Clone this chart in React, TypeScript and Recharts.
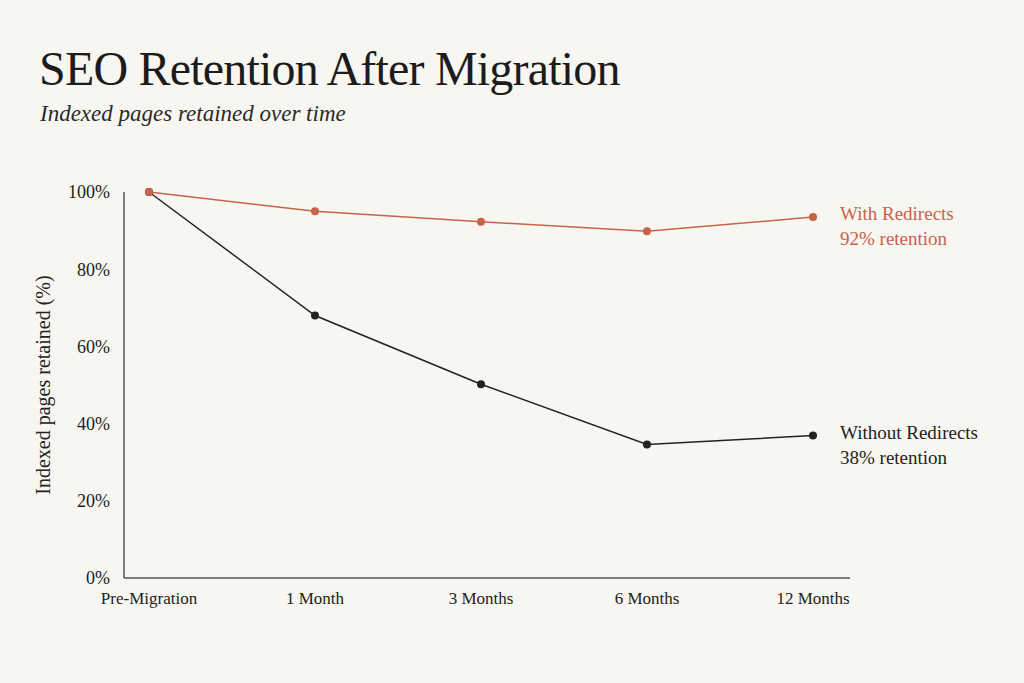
import React from 'react';
import { LineChart, Line, XAxis, YAxis, LabelList } from 'recharts';

const periods = ['Pre-Migration', '1 Month', '3 Months', '6 Months', '12 Months'];
const withRedirects = [100, 95, 92.3, 89.8, 93.5];
const withoutRedirects = [100, 68, 50.2, 34.6, 36.9];
const yTicks = [0, 20, 40, 60, 80, 100];
const seriesNames = ['With Redirects', 'Without Redirects'];
const retentionNotes = ['92% retention', '38% retention'];

const RED = '#c8624b';
const INK = '#222222';
const BG = '#f8f6f1';
const FONT = '"Liberation Serif", "DejaVu Serif", serif';

const data = periods.map((p, i) => ({
  period: p,
  withR: withRedirects[i],
  withoutR: withoutRedirects[i],
}));

const endLabel = (name: string, note: string, color: string) => (props: any) => {
  const { x, y, index } = props;
  if (index !== data.length - 1) return null;
  return (
    <text x={x + 27} y={y} fill={color} fontFamily={FONT} fontSize={19}>
      <tspan x={x + 27} dy={3}>{name}</tspan>
      <tspan x={x + 27} dy={25}>{note}</tspan>
    </text>
  );
};

const App = () => {
  return (
    <div
      style={{
        position: 'absolute',
        left: 0,
        top: 0,
        width: 1024,
        height: 683,
        background: BG,
        fontFamily: FONT,
        color: INK,
        overflow: 'hidden',
      }}
    >
      <div style={{ position: 'absolute', left: 39, top: 39, fontSize: 48, letterSpacing: -0.8, lineHeight: '60px', color: '#1c1c1c' }}>
        SEO Retention After Migration
      </div>
      <div style={{ position: 'absolute', left: 40, top: 100, fontSize: 23, fontStyle: 'italic', lineHeight: '28px', color: '#2a2a2a' }}>
        Indexed pages retained over time
      </div>
      <div style={{ position: 'absolute', left: 0, top: 0 }}>
        <LineChart width={1024} height={683} data={data} margin={{ top: 192, right: 174, bottom: 75, left: 34 }}>
          <XAxis
            dataKey="period"
            padding={{ left: 25, right: 37 }}
            tickLine={false}
            tickSize={6}
            tickMargin={8}
            stroke="#555"
            strokeWidth={1.5}
            tick={{ fill: INK, fontSize: 17, fontFamily: FONT }}
          />
          <YAxis
            width={90}
            domain={[0, 100]}
            ticks={yTicks}
            tickFormatter={(v) => `${v}%`}
            tickLine={false}
            tickSize={6}
            tickMargin={8}
            stroke="#555"
            strokeWidth={1.5}
            tick={{ fill: INK, fontSize: 18, fontFamily: FONT }}
            label={{
              value: 'Indexed pages retained (%)',
              angle: -90,
              position: 'insideLeft',
              offset: 9,
              style: { textAnchor: 'middle', fill: INK, fontSize: 20, fontFamily: FONT },
            }}
          />
          <Line
            dataKey="withoutR"
            stroke={INK}
            strokeWidth={1.5}
            dot={{ r: 4, fill: INK, stroke: INK, strokeWidth: 0 }}
            isAnimationActive={false}
          >
            <LabelList dataKey="withoutR" content={endLabel(seriesNames[1], retentionNotes[1], INK)} />
          </Line>
          <Line
            dataKey="withR"
            stroke={RED}
            strokeWidth={1.5}
            dot={{ r: 4, fill: RED, stroke: RED, strokeWidth: 0 }}
            isAnimationActive={false}
          >
            <LabelList dataKey="withR" content={endLabel(seriesNames[0], retentionNotes[0], RED)} />
          </Line>
        </LineChart>
      </div>
    </div>
  );
};

export default App;
